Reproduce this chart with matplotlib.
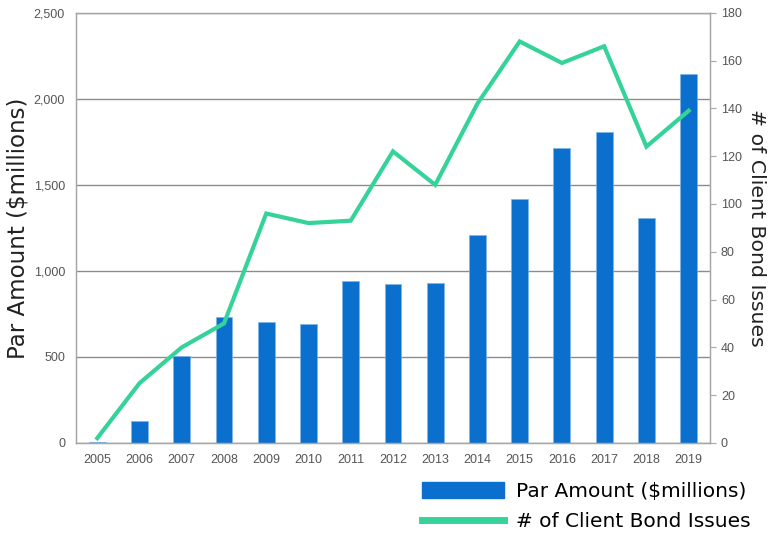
import matplotlib.pyplot as plt
from matplotlib.patches import Patch
from matplotlib.lines import Line2D
from matplotlib.ticker import FuncFormatter
import numpy as np

plt.rcParams.update({
    "font.family": ["Liberation Sans Narrow", "Liberation Sans", "DejaVu Sans"],
    "figure.facecolor": "white",
    "axes.facecolor": "white",
})

years = ["2005", "2006", "2007", "2008", "2009", "2010", "2011", "2012",
         "2013", "2014", "2015", "2016", "2017", "2018", "2019"]
par_amount = [3, 130, 505, 732, 703, 692, 941, 924,
              927, 1208, 1418, 1714, 1807, 1307, 2144]
bond_issues = [2, 25, 40, 50, 96, 92, 93, 122,
               108, 142, 168, 159, 166, 124, 139]

bar_color = "#0B70CD"
line_color = "#35D39A"
grid_color = "#8c8c8c"
tick_color = "#555555"

fig = plt.figure(figsize=(7.69, 5.33), dpi=100)
ax = fig.add_axes([0.099, 0.169, 0.824, 0.807])
x = np.arange(len(years))

ax.bar(x, par_amount, width=0.4, color=bar_color, edgecolor="#7fb3e6",
       linewidth=0.5, zorder=2)
ax.set_ylim(0, 2500)
ax.set_xlim(-0.5, len(years) - 0.5)
ax.set_yticks(np.arange(0, 2501, 500))
ax.yaxis.set_major_formatter(FuncFormatter(lambda v, p: f"{int(v):,}"))
ax.grid(axis="y", color=grid_color, linewidth=1, zorder=0)
ax.set_xticks(x)
ax.set_xticklabels(years)
ax.tick_params(axis="both", length=0, labelsize=9, colors=tick_color, pad=8)
for s in ax.spines.values():
    s.set_color("#a6a6a6")
    s.set_linewidth(1)
ax.set_ylabel("Par Amount ($millions)", fontsize=16.5, color="#222222",
              family=["DejaVu Sans"], labelpad=3)

ax2 = ax.twinx()
ax2.plot(x, bond_issues, color=line_color, linewidth=3, solid_joinstyle="miter",
         zorder=3)
ax2.set_ylim(0, 180)
ax2.set_yticks(np.arange(0, 181, 20))
ax2.tick_params(axis="y", length=4, direction="out", labelsize=9,
                colors=tick_color, pad=4)
ax2.tick_params(axis="y", color="#a6a6a6")
for s in ax2.spines.values():
    s.set_color("#a6a6a6")
ax2.set_ylabel("# of Client Bond Issues", fontsize=14.7, color="#222222",
               family=["DejaVu Sans"], rotation=-90, labelpad=17)

handles = [Patch(facecolor=bar_color, edgecolor=bar_color),
           Line2D([0], [0], color=line_color, linewidth=5)]
leg = fig.legend(handles, ["Par Amount ($millions)", "# of Client Bond Issues"],
                 loc="lower right", bbox_to_anchor=(1.0, -0.031),
                 frameon=False, handlelength=4.1, handleheight=0.8,
                 handletextpad=0.6, labelspacing=0.57,
                 prop={"family": ["DejaVu Sans"], "size": 14.5})

plt.savefig("out.png", dpi=100, facecolor="white")
plt.close()
